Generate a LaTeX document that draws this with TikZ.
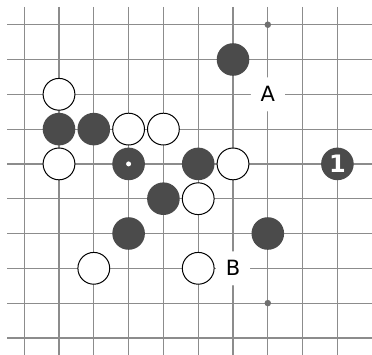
\documentclass[tikz,border=0pt]{standalone}
\usepackage{fontspec}
\setmainfont{DejaVu Sans}
\begin{document}
\begin{tikzpicture}[x=34.8pt,y=-34.8pt]
\definecolor{stoneblack}{HTML}{4B4B4B}
\definecolor{gridgray}{HTML}{8C8C8C}
\tikzset{
  gridline/.style={draw=gridgray,line width=1.2pt},
  bstone/.style={circle,fill=stoneblack,inner sep=0pt,minimum size=32.6pt},
  wstone/.style={circle,draw=black,fill=white,line width=1pt,inner sep=0pt,minimum size=31.8pt},
  hoshi/.style={circle,fill=gridgray!80!black,inner sep=0pt,minimum size=6.5pt},
  marklabel/.style={circle,fill=white,inner sep=0pt,minimum size=34pt,font=\fontsize{21}{21}\selectfont},
  numlabel/.style={text=white,font=\fontsize{24}{24}\selectfont\bfseries},
  centerdot/.style={circle,fill=white,inner sep=0pt,minimum size=5pt}
}
\useasboundingbox (-0.6954,-0.7098) rectangle (9.994,9.491);
% grid
\foreach \c in {0,...,9} {\draw[gridline] (\c,-0.509) -- (\c,9.491);}
\foreach \r in {0,...,9} {\draw[gridline] (-0.494,\r) -- (9.994,\r);}
% hoshi
\node[hoshi] (h1) at (7,0) {};
\node[hoshi] (h2) at (7,8) {};
% labels
\node[marklabel] (lA) at (7,2) {A};
\node[marklabel] (lB) at (6,7) {B};
% black stones
\node[bstone] (b1) at (6,1) {};
\node[bstone] (b2) at (1,3) {};
\node[bstone] (b3) at (2,3) {};
\node[bstone] (b4) at (3,4) {};
\node[centerdot] (b4d) at (3,4) {};
\node[bstone] (b5) at (5,4) {};
\node[bstone] (b6) at (9,4) {};
\node[numlabel] (b6n) at (9,4) {1};
\node[bstone] (b7) at (4,5) {};
\node[bstone] (b8) at (3,6) {};
\node[bstone] (b9) at (7,6) {};
% white stones
\node[wstone] (w1) at (1,2) {};
\node[wstone] (w2) at (3,3) {};
\node[wstone] (w3) at (4,3) {};
\node[wstone] (w4) at (1,4) {};
\node[wstone] (w5) at (6,4) {};
\node[wstone] (w6) at (5,5) {};
\node[wstone] (w7) at (2,7) {};
\node[wstone] (w8) at (5,7) {};
\end{tikzpicture}
\end{document}
